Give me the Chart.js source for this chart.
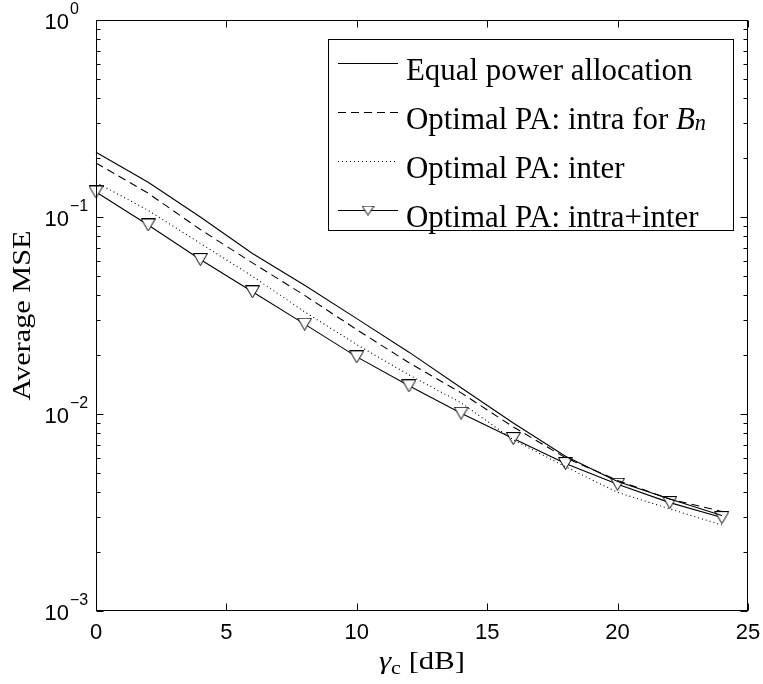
<!DOCTYPE html>
<html><head><meta charset="utf-8">
<script src="https://cdn.jsdelivr.net/npm/chart.js@4.4.1/dist/chart.umd.min.js"></script>
<style>html,body{margin:0;padding:0;background:#fff;}canvas{display:block;}</style>
</head><body>
<canvas id="c" width="763" height="684" style="width:763px;height:684px"></canvas>
<script>
// ---- data ----
const snrDb = [0, 2, 4, 6, 8, 10, 12, 14, 16, 18, 20, 22, 24];
const mseEqual      = [0.213, 0.150, 0.100, 0.0653, 0.0450, 0.0305, 0.0206, 0.0136, 0.0090, 0.0061, 0.00454, 0.0037, 0.00305];
const mseIntraBn    = [0.188, 0.132, 0.0864, 0.0585, 0.0400, 0.0268, 0.0182, 0.0128, 0.0086, 0.0060, 0.0046, 0.0037, 0.0032];
const mseInter      = [0.150, 0.108, 0.0735, 0.0500, 0.0330, 0.0225, 0.0158, 0.0114, 0.0074, 0.0054, 0.0040, 0.0033, 0.00273];
const mseIntraInter = [0.134, 0.0911, 0.0608, 0.0417, 0.0286, 0.0195, 0.0139, 0.0101, 0.0075, 0.0056, 0.0044, 0.00355, 0.00298];
const xTickValues = [0, 5, 10, 15, 20, 25];
const yDecadeExponents = [-3, -2, -1, 0];
const seriesNames = ['Equal power allocation', 'Optimal PA: intra for ', 'Optimal PA: inter', 'Optimal PA: intra+inter'];
const xTitle = ['γ', 'c', ' [dB]'];
const yTitle = 'Average MSE';

const SERIF = '"Liberation Serif","Times New Roman",serif';
const SANS = '"Liberation Sans",Arial,sans-serif';

// down-pointing triangle marker, centred in its box
function makeTri(w, h) {
  const cv = document.createElement('canvas');
  cv.width = w; cv.height = h;
  const g = cv.getContext('2d');
  g.beginPath();
  g.moveTo(0.5, 0.5); g.lineTo(w - 0.5, 0.5); g.lineTo(w / 2, h - 0.5); g.closePath();
  g.fillStyle = '#fff'; g.fill();
  g.strokeStyle = '#000'; g.lineWidth = 1; g.stroke();
  return cv;
}
const triMarker = makeTri(15, 13);
const triLegend = makeTri(13, 10);

const pts = arr => snrDb.map((x, i) => ({ x: x, y: arr[i] }));
const base = { borderColor: '#000', borderWidth: 1.1, pointRadius: 0, fill: false, tension: 0, clip: false };

const framePlugin = {
  id: 'frame',
  afterDatasetsDraw(chart) {
    const { ctx, chartArea: a, scales: { x, y } } = chart;
    ctx.save();
    const L = Math.round(a.left) + 0.5, R = Math.round(a.right) - 0.5;
    const T = Math.round(a.top) + 0.5, B = Math.round(a.bottom) - 0.5;
    ctx.strokeStyle = '#000'; ctx.lineWidth = 1;
    ctx.strokeRect(L, T, R - L, B - T);
    ctx.beginPath();
    xTickValues.forEach(v => {
      const px = Math.round(x.getPixelForValue(v)) + 0.5;
      ctx.moveTo(px, B); ctx.lineTo(px, B - 7);
      ctx.moveTo(px, T); ctx.lineTo(px, T + 7);
    });
    yDecadeExponents.forEach(k => {
      const py = Math.round(y.getPixelForValue(Math.pow(10, k))) + 0.5;
      ctx.moveTo(L, py); ctx.lineTo(L + 7, py);
      ctx.moveTo(R, py); ctx.lineTo(R - 7, py);
      if (k < 0) {
        for (let m = 2; m <= 9; m++) {
          const q = Math.round(y.getPixelForValue(m * Math.pow(10, k))) + 0.5;
          ctx.moveTo(L, q); ctx.lineTo(L + 4, q);
          ctx.moveTo(R, q); ctx.lineTo(R - 4, q);
        }
      }
    });
    ctx.stroke();

    // x tick labels
    ctx.fillStyle = '#000';
    ctx.font = '22px ' + SANS;
    ctx.textAlign = 'center'; ctx.textBaseline = 'middle';
    xTickValues.forEach(v => ctx.fillText(String(v), x.getPixelForValue(v), a.bottom + 22));
    // y tick labels 10^k
    yDecadeExponents.forEach(k => {
      const py = y.getPixelForValue(Math.pow(10, k));
      ctx.textAlign = 'right'; ctx.textBaseline = 'middle';
      ctx.font = '22px ' + SANS;
      ctx.fillText('10', 69, py + 3);
      ctx.textAlign = 'left';
      ctx.font = '16px ' + SANS;
      ctx.fillText(k === 0 ? '0' : '\u2212' + String(-k), 70, py - 10);
    });

    // y title
    ctx.save();
    ctx.font = '25px ' + SERIF;
    const yw = ctx.measureText(yTitle).width;
    ctx.translate(23, (a.top + a.bottom) / 2);
    ctx.rotate(-Math.PI / 2);
    ctx.scale(170 / yw, 1);
    ctx.textAlign = 'center'; ctx.textBaseline = 'middle';
    ctx.fillText(yTitle, 0, 0);
    ctx.restore();

    // x title  γ_c [dB]
    ctx.save();
    const cx = (a.left + a.right) / 2, by = a.bottom + 58;
    ctx.textAlign = 'left'; ctx.textBaseline = 'alphabetic';
    ctx.font = 'italic 25px ' + SERIF;
    const w1 = ctx.measureText(xTitle[0]).width;
    ctx.font = '18px ' + SERIF;
    const w2 = ctx.measureText(xTitle[1]).width;
    ctx.font = '25px ' + SERIF;
    const w3 = ctx.measureText(xTitle[2]).width;
    const tot = w1 + w2 + w3, sc = 86 / tot;
    ctx.translate(cx - 43, by);
    ctx.scale(sc, 1);
    let sx = 0;
    ctx.font = 'italic 25px ' + SERIF; ctx.fillText(xTitle[0], sx, 0); sx += w1;
    ctx.font = '18px ' + SERIF; ctx.fillText(xTitle[1], sx, 5); sx += w2;
    ctx.font = '25px ' + SERIF; ctx.fillText(xTitle[2], sx, 0);
    ctx.restore();

    // legend
    const bx = 328.5, byT = 39.5, bw = 405, bh = 191;
    ctx.fillStyle = '#fff'; ctx.fillRect(bx, byT, bw, bh);
    ctx.strokeStyle = '#000'; ctx.lineWidth = 1; ctx.strokeRect(bx, byT, bw, bh);
    ctx.font = '22px ' + SERIF;
    const ew = ctx.measureText(seriesNames[0]).width;
    const fs = 287 / ew * 22;
    const rowsY = [63.5, 112.5, 161.5, 210.5];
    const dashes = [[], [8, 5], [1, 3], []];
    rowsY.forEach((ry, i) => {
      ctx.beginPath();
      ctx.setLineDash(dashes[i]);
      ctx.lineWidth = 1.1;
      ctx.moveTo(338, ry); ctx.lineTo(398, ry); ctx.stroke();
      ctx.setLineDash([]);
      if (i === 3) ctx.drawImage(triLegend, 368 - 6.5, ry - 5);
      ctx.fillStyle = '#000';
      ctx.font = fs.toFixed(1) + 'px ' + SERIF;
      ctx.fillText(seriesNames[i], 406, ry + 8);
      if (i === 1) {
        let tx = 406 + ctx.measureText(seriesNames[i]).width;
        ctx.font = 'italic ' + fs.toFixed(1) + 'px ' + SERIF;
        ctx.fillText('B', tx, ry + 8);
        tx += ctx.measureText('B').width;
        ctx.font = 'italic ' + (fs * 0.72).toFixed(1) + 'px ' + SERIF;
        ctx.fillText('n', tx, ry + 12);
      }
    });
    ctx.restore();
  }
};

new Chart(document.getElementById('c'), {
  type: 'line',
  data: {
    datasets: [
      Object.assign({}, base, { label: seriesNames[0], data: pts(mseEqual) }),
      Object.assign({}, base, { label: seriesNames[1], data: pts(mseIntraBn), borderDash: [8, 5] }),
      Object.assign({}, base, { label: seriesNames[2], data: pts(mseInter), borderDash: [1, 3] }),
      Object.assign({}, base, { label: seriesNames[3], data: pts(mseIntraInter), pointRadius: 7, pointStyle: triMarker })
    ]
  },
  options: {
    responsive: false,
    animation: false,
    events: [],
    layout: { padding: { left: 96, right: 15, top: 20, bottom: 73 } },
    plugins: { legend: { display: false }, tooltip: { enabled: false } },
    scales: {
      x: { type: 'linear', min: 0, max: 25, display: false },
      y: { type: 'logarithmic', min: 0.001, max: 1, display: false }
    }
  },
  plugins: [framePlugin]
});
</script>
</body></html>
